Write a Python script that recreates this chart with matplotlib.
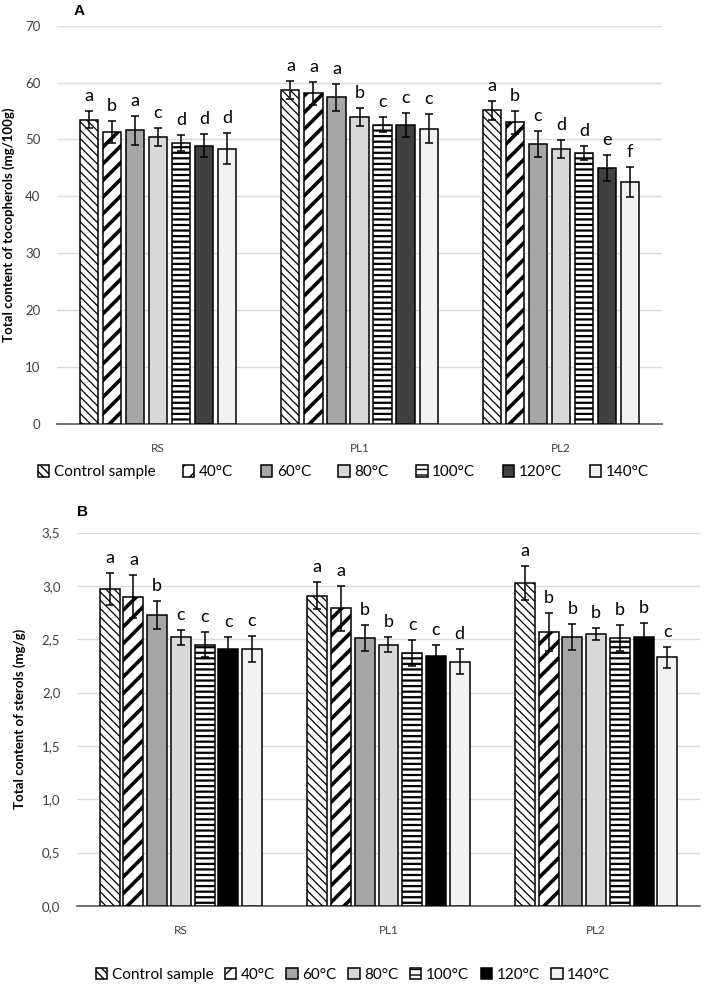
import matplotlib
matplotlib.use("Agg")
import matplotlib.pyplot as plt
import numpy as np

plt.rcParams["font.family"] = ["Lato", "DejaVu Sans"]

groups = ["RS", "PL1", "PL2"]
series = ["Control sample", "40°C", "60°C", "80°C", "100°C", "120°C", "140°C"]

# panel A - tocopherols (mg/100g), rows = series, cols = RS, PL1, PL2
toco = [
    [53.5, 58.7, 55.1],
    [51.3, 58.1, 53.0],
    [51.6, 57.4, 49.2],
    [50.5, 53.9, 48.3],
    [49.4, 52.6, 47.6],
    [48.9, 52.6, 45.0],
    [48.4, 51.9, 42.5],
]
toco_err = [
    [1.5, 1.6, 1.6],
    [1.95, 2.0, 2.0],
    [2.6, 2.4, 2.3],
    [1.6, 1.6, 1.6],
    [1.35, 1.35, 1.3],
    [2.0, 2.1, 2.3],
    [2.8, 2.6, 2.7],
]
toco_letters = [
    ["a", "a", "a"],
    ["b", "a", "b"],
    ["a", "a", "c"],
    ["c", "b", "d"],
    ["d", "c", "d"],
    ["d", "c", "e"],
    ["d", "c", "f"],
]

# panel B - sterols (mg/g)
sterols = [
    [2.97, 2.91, 3.03],
    [2.90, 2.79, 2.57],
    [2.73, 2.51, 2.52],
    [2.52, 2.45, 2.55],
    [2.45, 2.37, 2.51],
    [2.41, 2.34, 2.52],
    [2.41, 2.29, 2.33],
]
sterols_err = [
    [0.15, 0.13, 0.16],
    [0.20, 0.21, 0.18],
    [0.13, 0.12, 0.12],
    [0.07, 0.07, 0.06],
    [0.12, 0.12, 0.12],
    [0.11, 0.11, 0.13],
    [0.12, 0.12, 0.10],
]
sterols_letters = [
    ["a", "a", "a"],
    ["a", "a", "b"],
    ["b", "b", "b"],
    ["c", "b", "b"],
    ["c", "c", "b"],
    ["c", "c", "b"],
    ["c", "d", "c"],
]


def styles(dark120):
    return [
        dict(color="white", hatch="\\\\\\\\", hlw=0.9),
        dict(color="white", hatch="//", hlw=2.6),
        dict(color="#a6a6a6", hatch=None, hlw=1),
        dict(color="#d9d9d9", hatch=None, hlw=1),
        dict(color="white", hatch="---", hlw=1.6),
        dict(color=dark120, hatch=None, hlw=1),
        dict(color="#f2f2f2", hatch=None, hlw=1),
    ]


def panel(ax, vals, errs, letters, ymax, step, ylabel, dark120, barw, fmt):
    x = np.arange(len(groups))
    slot = 0.8 / len(series)
    handles = []
    for i, (name, st) in enumerate(zip(series, styles(dark120))):
        pos = x + (i - 3) * slot
        with plt.rc_context({"hatch.linewidth": st["hlw"]}):
            bars = ax.bar(pos, vals[i], barw, color=st["color"], hatch=st["hatch"],
                          edgecolor="black", linewidth=1.1, label=name, zorder=3)
        for p in bars:
            if hasattr(p, "set_hatch_linewidth"):
                p.set_hatch_linewidth(st["hlw"])
        handles.append(bars)
        ax.errorbar(pos, vals[i], yerr=errs[i], fmt="none", ecolor="black",
                    elinewidth=1.1, capsize=3, capthick=1.1, zorder=4)
        for xp, v, e, t in zip(pos, vals[i], errs[i], letters[i]):
            ax.annotate(t, (xp, v + e), xytext=(0, 5), textcoords="offset points",
                        ha="center", va="bottom", fontsize=13, color="black")
    ax.set_xlim(-0.5, 2.5)
    ax.set_ylim(0, ymax)
    ax.set_yticks(np.arange(0, ymax + step / 2, step))
    ax.set_yticklabels([fmt(v) for v in np.arange(0, ymax + step / 2, step)])
    ax.set_xticks(x)
    ax.set_xticklabels(groups, fontsize=8.5, color="#404040")
    ax.tick_params(length=0, labelsize=9.5, labelcolor="#404040")
    ax.tick_params(axis="y", pad=12)
    ax.tick_params(axis="x", pad=14, labelsize=8.5)
    ax.grid(axis="y", color="#d9d9d9", linewidth=1, zorder=0)
    for s in ["top", "right", "left"]:
        ax.spines[s].set_visible(False)
    ax.spines["bottom"].set_color("#595959")
    ax.spines["bottom"].set_linewidth(1.2)
    ax.set_ylabel(ylabel, fontsize=9.5, fontweight="bold")
    return handles


fig = plt.figure(figsize=(7.07, 9.9), dpi=100)

axA = fig.add_axes([0.081, 0.572, 0.855, 0.402])
hA = panel(axA, toco, toco_err, toco_letters, 70, 10,
           "Total content of tocopherols (mg/100g)", "#404040", 0.09,
           lambda v: f"{v:.0f}")
axA.yaxis.set_label_coords(-0.07, 0.5)
axA.legend(handles=hA, loc="upper center", bbox_to_anchor=(0.473, -0.07), ncol=7,
           frameon=False, fontsize=11, handlelength=0.75, handleheight=0.75,
           handletextpad=0.3, columnspacing=1.8)
fig.text(74 / 707, 1 - 11 / 990, "A", fontsize=11, fontweight="bold",
         family="Liberation Sans", va="center")

axB = fig.add_axes([0.109, 0.085, 0.881, 0.377])
hB = panel(axB, sterols, sterols_err, sterols_letters, 3.5, 0.5,
           "Total content of sterols (mg/g)", "black", 0.096,
           lambda v: f"{v:.1f}".replace(".", ","))
axB.yaxis.set_label_coords(-0.082, 0.5)
axB.legend(handles=hB, loc="upper center", bbox_to_anchor=(0.443, -0.13), ncol=7,
           frameon=False, fontsize=11, handlelength=0.75, handleheight=0.75,
           handletextpad=0.3, columnspacing=0.75)
fig.text(77 / 707, 1 - 512 / 990, "B", fontsize=11, fontweight="bold",
         family="Liberation Sans", va="center")

fig.savefig("out.png", dpi=100)
